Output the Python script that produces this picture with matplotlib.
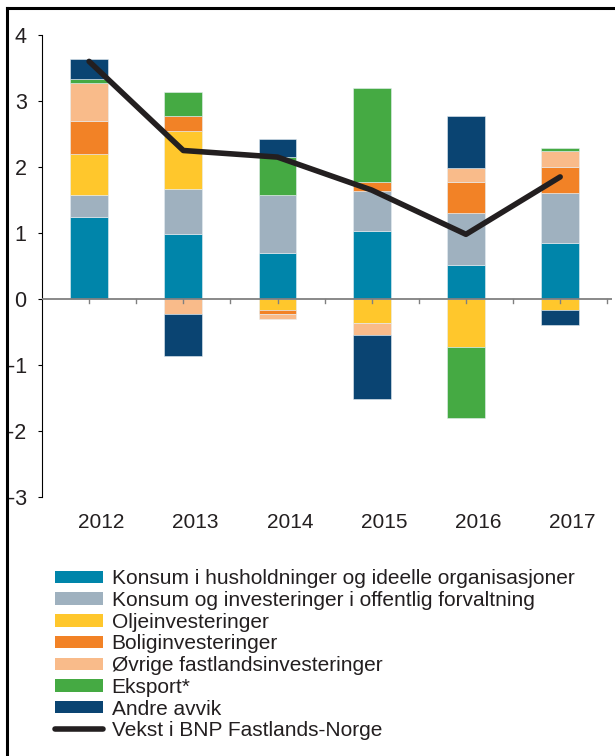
import matplotlib.pyplot as plt
import numpy as np
from matplotlib.lines import Line2D
from matplotlib.patches import Patch

plt.rcParams['font.family'] = ['Liberation Sans', 'DejaVu Sans']
plt.rcParams['axes.unicode_minus'] = False

years = ['2012', '2013', '2014', '2015', '2016', '2017']

series_names = [
    'Konsum i husholdninger og ideelle organisasjoner',
    'Konsum og investeringer i offentlig forvaltning',
    'Oljeinvesteringer',
    'Boliginvesteringer',
    'Øvrige fastlandsinvesteringer',
    'Eksport*',
    'Andre avvik',
]
colors = ['#0085AA', '#9FB1BF', '#FFC72C', '#F28226', '#F9BB8A', '#45AA43', '#0A4472']

# contributions per component (percentage points)
konsum_hush = [1.25, 0.99, 0.70, 1.03, 0.52, 0.85]
offentlig = [0.32, 0.68, 0.87, 0.61, 0.79, 0.76]
olje = [0.62, 0.87, -0.16, -0.37, -0.73, -0.16]
bolig = [0.50, 0.24, -0.06, 0.14, 0.46, 0.39]
ovrige = [0.58, -0.22, -0.08, -0.18, 0.22, 0.25]
eksport = [0.07, 0.36, 0.58, 1.41, -1.07, 0.04]
andre = [0.29, -0.65, 0.28, -0.97, 0.79, -0.24]

bnp_vekst = [3.6, 2.25, 2.15, 1.65, 0.98, 1.85]

series = [konsum_hush, offentlig, olje, bolig, ovrige, eksport, andre]

fig = plt.figure(figsize=(6.15, 7.56), dpi=100)
ax = fig.add_axes([42 / 615, 1 - 497 / 756, 570 / 615, 462 / 756])

x = np.arange(len(years))
pos_bottom = np.zeros(len(years))
neg_bottom = np.zeros(len(years))
for vals, col in zip(series, colors):
    vals = np.array(vals)
    bottom = np.where(vals >= 0, pos_bottom, neg_bottom)
    ax.bar(x, vals, 0.4, bottom=bottom, color=col, edgecolor='#E6EEF2', linewidth=0.4, zorder=2)
    pos_bottom += np.where(vals >= 0, vals, 0)
    neg_bottom += np.where(vals < 0, vals, 0)

ax.plot(x, bnp_vekst, color='#231F20', linewidth=4, solid_capstyle='round', zorder=4)

ax.axhline(0, color='#808080', linewidth=1.3, zorder=3)

ax.set_xlim(-0.5, 5.55)
ax.set_ylim(-3, 4)
ax.set_yticks(range(-3, 5))
ax.tick_params(axis='y', direction='out', length=3, width=0.8, pad=8,
               labelsize=15.5, labelcolor='#231F20')

# small ticks on the zero line, labels slightly to the right of bars
ax.set_xticks([])
for xi in np.arange(0, 6.0, 0.5):
    ax.plot([xi, xi], [0, -0.055], color='#808080', linewidth=1, zorder=3)
for xi, yr in zip(x, years):
    ax.text(xi + 0.13, -3.38, yr, ha='center', va='center', fontsize=15, color='#231F20')

for side in ['top', 'right', 'bottom']:
    ax.spines[side].set_visible(False)
ax.spines['left'].set_linewidth(0.8)

handles = [Patch(facecolor=c, edgecolor='none') for c in colors]
handles.append(Line2D([0], [0], color='#231F20', linewidth=4, solid_capstyle='round'))
labels = series_names + ['Vekst i BNP Fastlands-Norge']
fig.legend(handles, labels, loc='upper left', bbox_to_anchor=(47 / 615, 1 - 561 / 756),
           frameon=False, fontsize=15, handlelength=2.3, handleheight=0.55,
           labelspacing=0.13, handletextpad=0.4, borderaxespad=0,
           labelcolor='#231F20')

# frame lines along top and left edge
fig.add_artist(Line2D([6.5 / 615, 1], [1 - 7.5 / 756] * 2, color='black', linewidth=2.2,
                      transform=fig.transFigure))
fig.add_artist(Line2D([6.5 / 615] * 2, [0, 1 - 7.5 / 756], color='black', linewidth=2.2,
                      transform=fig.transFigure))

fig.savefig('out.png', dpi=100)
